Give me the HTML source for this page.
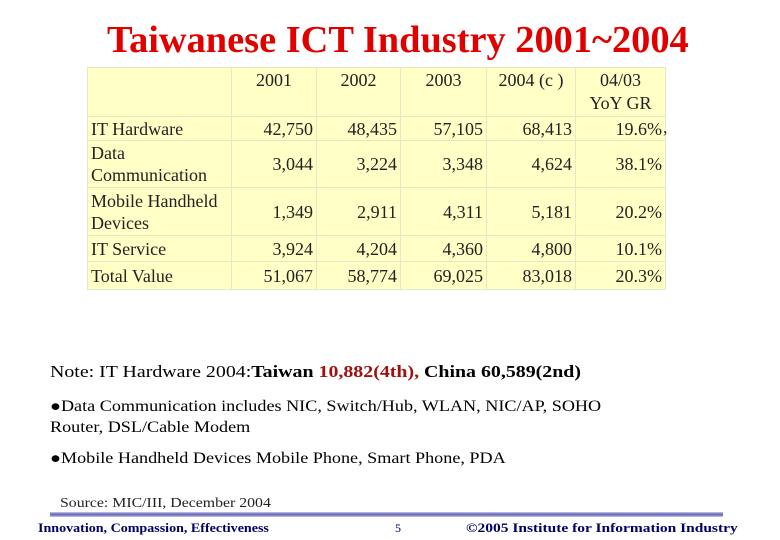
<!DOCTYPE html>
<html><head><meta charset="utf-8"><style>
body{margin:0;width:780px;height:540px;background:#fff;position:relative;overflow:hidden;font-family:"Liberation Serif",serif;}
.abs{position:absolute;white-space:nowrap;transform-origin:0 0;}
table{position:absolute;left:87px;top:67px;border-collapse:collapse;font-size:18px;color:#222;table-layout:fixed;width:578px;}
td{background:#ffffc6;border:1px solid #e6e6c8;padding:0 3px;text-align:right;line-height:22px;vertical-align:middle;overflow:hidden;white-space:nowrap;}
td.l{text-align:left;}
th{background:#ffffc6;border:1px solid #e6e6c8;font-weight:normal;vertical-align:top;line-height:23px;padding-top:1px;}
</style></head><body>
<div class="abs" style="left:107px;top:18px;font-size:37.7px;font-weight:bold;color:#e00000;transform:scaleX(1.018)">Taiwanese ICT Industry 2001~2004</div>
<table>
<colgroup><col style="width:144px"><col style="width:85px"><col style="width:84px"><col style="width:86px"><col style="width:89px"><col style="width:90px"></colgroup>
<tr style="height:48px"><th></th><th>2001</th><th>2002</th><th>2003</th><th>2004 (c )</th><th>04/03<br>YoY GR</th></tr>
<tr style="height:24px"><td class="l">IT Hardware</td><td>42,750</td><td>48,435</td><td>57,105</td><td>68,413</td><td>19.6%</td></tr>
<tr style="height:47px"><td class="l">Data<br>Communication</td><td>3,044</td><td>3,224</td><td>3,348</td><td>4,624</td><td>38.1%</td></tr>
<tr style="height:48px"><td class="l">Mobile Handheld<br>Devices</td><td>1,349</td><td>2,911</td><td>4,311</td><td>5,181</td><td>20.2%</td></tr>
<tr style="height:26px"><td class="l">IT Service</td><td>3,924</td><td>4,204</td><td>4,360</td><td>4,800</td><td>10.1%</td></tr>
<tr style="height:28px"><td class="l">Total Value</td><td>51,067</td><td>58,774</td><td>69,025</td><td>83,018</td><td>20.3%</td></tr>
</table>
<div class="abs" style="left:663px;top:117px;font-size:18px;color:#333">,</div>
<div class="abs" style="left:50px;top:362px;font-size:17px;color:#000;transform:scaleX(1.17)">Note: IT Hardware 2004:<b>Taiwan <span style="color:#a01010">10,882(4th),</span> China 60,589(2nd)</b></div>
<div class="abs" style="left:50px;top:396px;font-size:15.5px;line-height:21px;color:#000;transform:scaleX(1.17)">●Data Communication includes NIC, Switch/Hub, WLAN, NIC/AP, SOHO<br>Router, DSL/Cable Modem</div>
<div class="abs" style="left:50px;top:450px;font-size:15.5px;color:#000;transform:scaleX(1.17)">●Mobile Handheld Devices Mobile Phone, Smart Phone, PDA</div>
<div class="abs" style="left:60px;top:496px;font-size:14px;color:#222;transform:scaleX(1.13)">Source: MIC/III, December 2004</div>
<div class="abs" style="left:50px;top:512px;width:673px;height:5px;background:linear-gradient(#c8c8f0,#6060b0,#c8c8f0);"></div>
<div class="abs" style="left:38px;top:520px;font-size:13px;font-weight:bold;color:#000066;transform:scaleX(1.08)">Innovation, Compassion, Effectiveness</div>
<div class="abs" style="left:395px;top:521px;font-size:12px;color:#000066">5</div>
<div class="abs" style="left:466px;top:520px;font-size:13px;font-weight:bold;color:#000066;transform:scaleX(1.19)">©2005 Institute for Information Industry</div>
</body></html>
